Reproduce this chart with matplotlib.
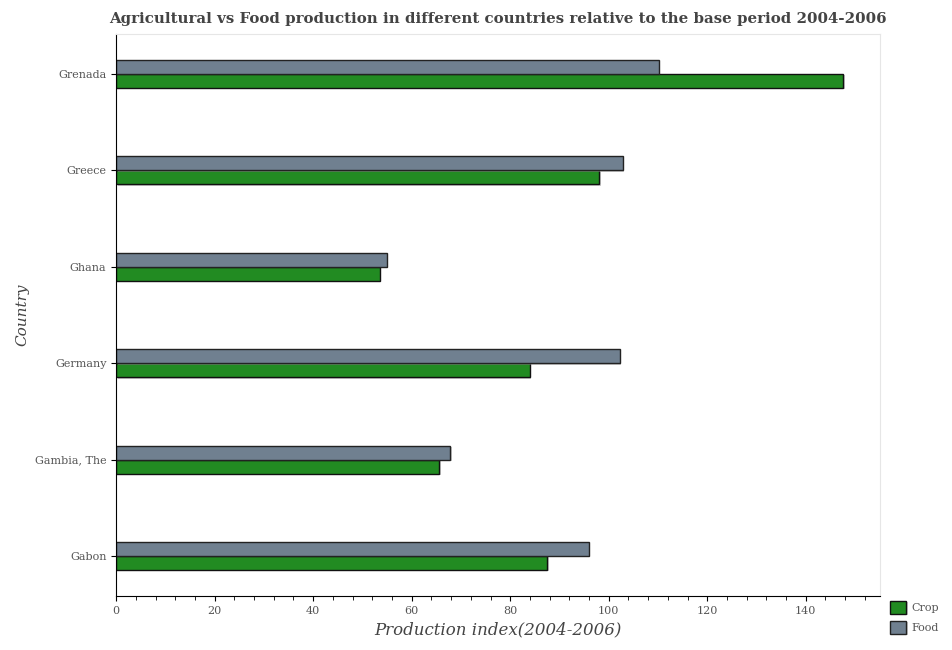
import numpy as np
import matplotlib
matplotlib.use("Agg")
import matplotlib.pyplot as plt
import matplotlib.patheffects as pe
from matplotlib.ticker import MultipleLocator

plt.rcParams["font.family"] = "DejaVu Serif"

# %% Data

countries = ["Gabon", "Gambia, The", "Germany", "Ghana", "Greece", "Grenada"]
crop = [87.5, 65.6, 84.0, 53.5, 98.1, 147.6]
food = [96.0, 67.8, 102.2, 55.0, 102.9, 110.2]

# %% Plot

fig = plt.figure(figsize=(9.52, 6.5), dpi=100)
ax = fig.add_axes([0.122, 0.083, 0.802, 0.865])

shadow = [pe.SimplePatchShadow(offset=(1, -1), shadow_rgbFace="#999999",
                               alpha=0.5), pe.Normal()]

y = np.arange(len(countries))
h = 0.145
ax.barh(y - h / 2, crop, height=h, color="#228b22", edgecolor="#111111",
        linewidth=1.0, label="Crop", path_effects=shadow)
ax.barh(y + h / 2, food, height=h, color="#708090", edgecolor="#222222",
        linewidth=1.0, label="Food", path_effects=shadow)

ax.set_xlim(0, 155)
ax.set_ylim(-0.415, 5.415)
ax.set_yticks(y)
ax.set_yticklabels(countries)
ax.xaxis.set_major_locator(MultipleLocator(20))
ax.xaxis.set_minor_locator(MultipleLocator(4))

ax.tick_params(axis="both", labelsize=8, labelcolor="#555555", color="black")
ax.tick_params(axis="x", which="minor", length=3)
for s in ["top", "right"]:
    ax.spines[s].set_color("#e6e6e6")
for s in ["left", "bottom"]:
    ax.spines[s].set_color("black")

ax.set_xlabel("Production index(2004-2006)", fontsize=12, style="italic",
              color="#444444")
ax.set_ylabel("Country", fontsize=11, style="italic", color="#444444")
ax.yaxis.set_label_coords(-0.113, 0.5)
ax.set_title("Agricultural vs Food production in different countries relative to the base period 2004-2006",
             fontsize=10.8, fontweight="bold", color="#444444", pad=8)

ax.legend(loc="lower left", bbox_to_anchor=(1.0, -0.085), frameon=False,
          fontsize=8, labelcolor="#555555", handlelength=1.5,
          handleheight=1.45, labelspacing=0.6, handletextpad=0.5)

plt.savefig("out.png", dpi=100)
